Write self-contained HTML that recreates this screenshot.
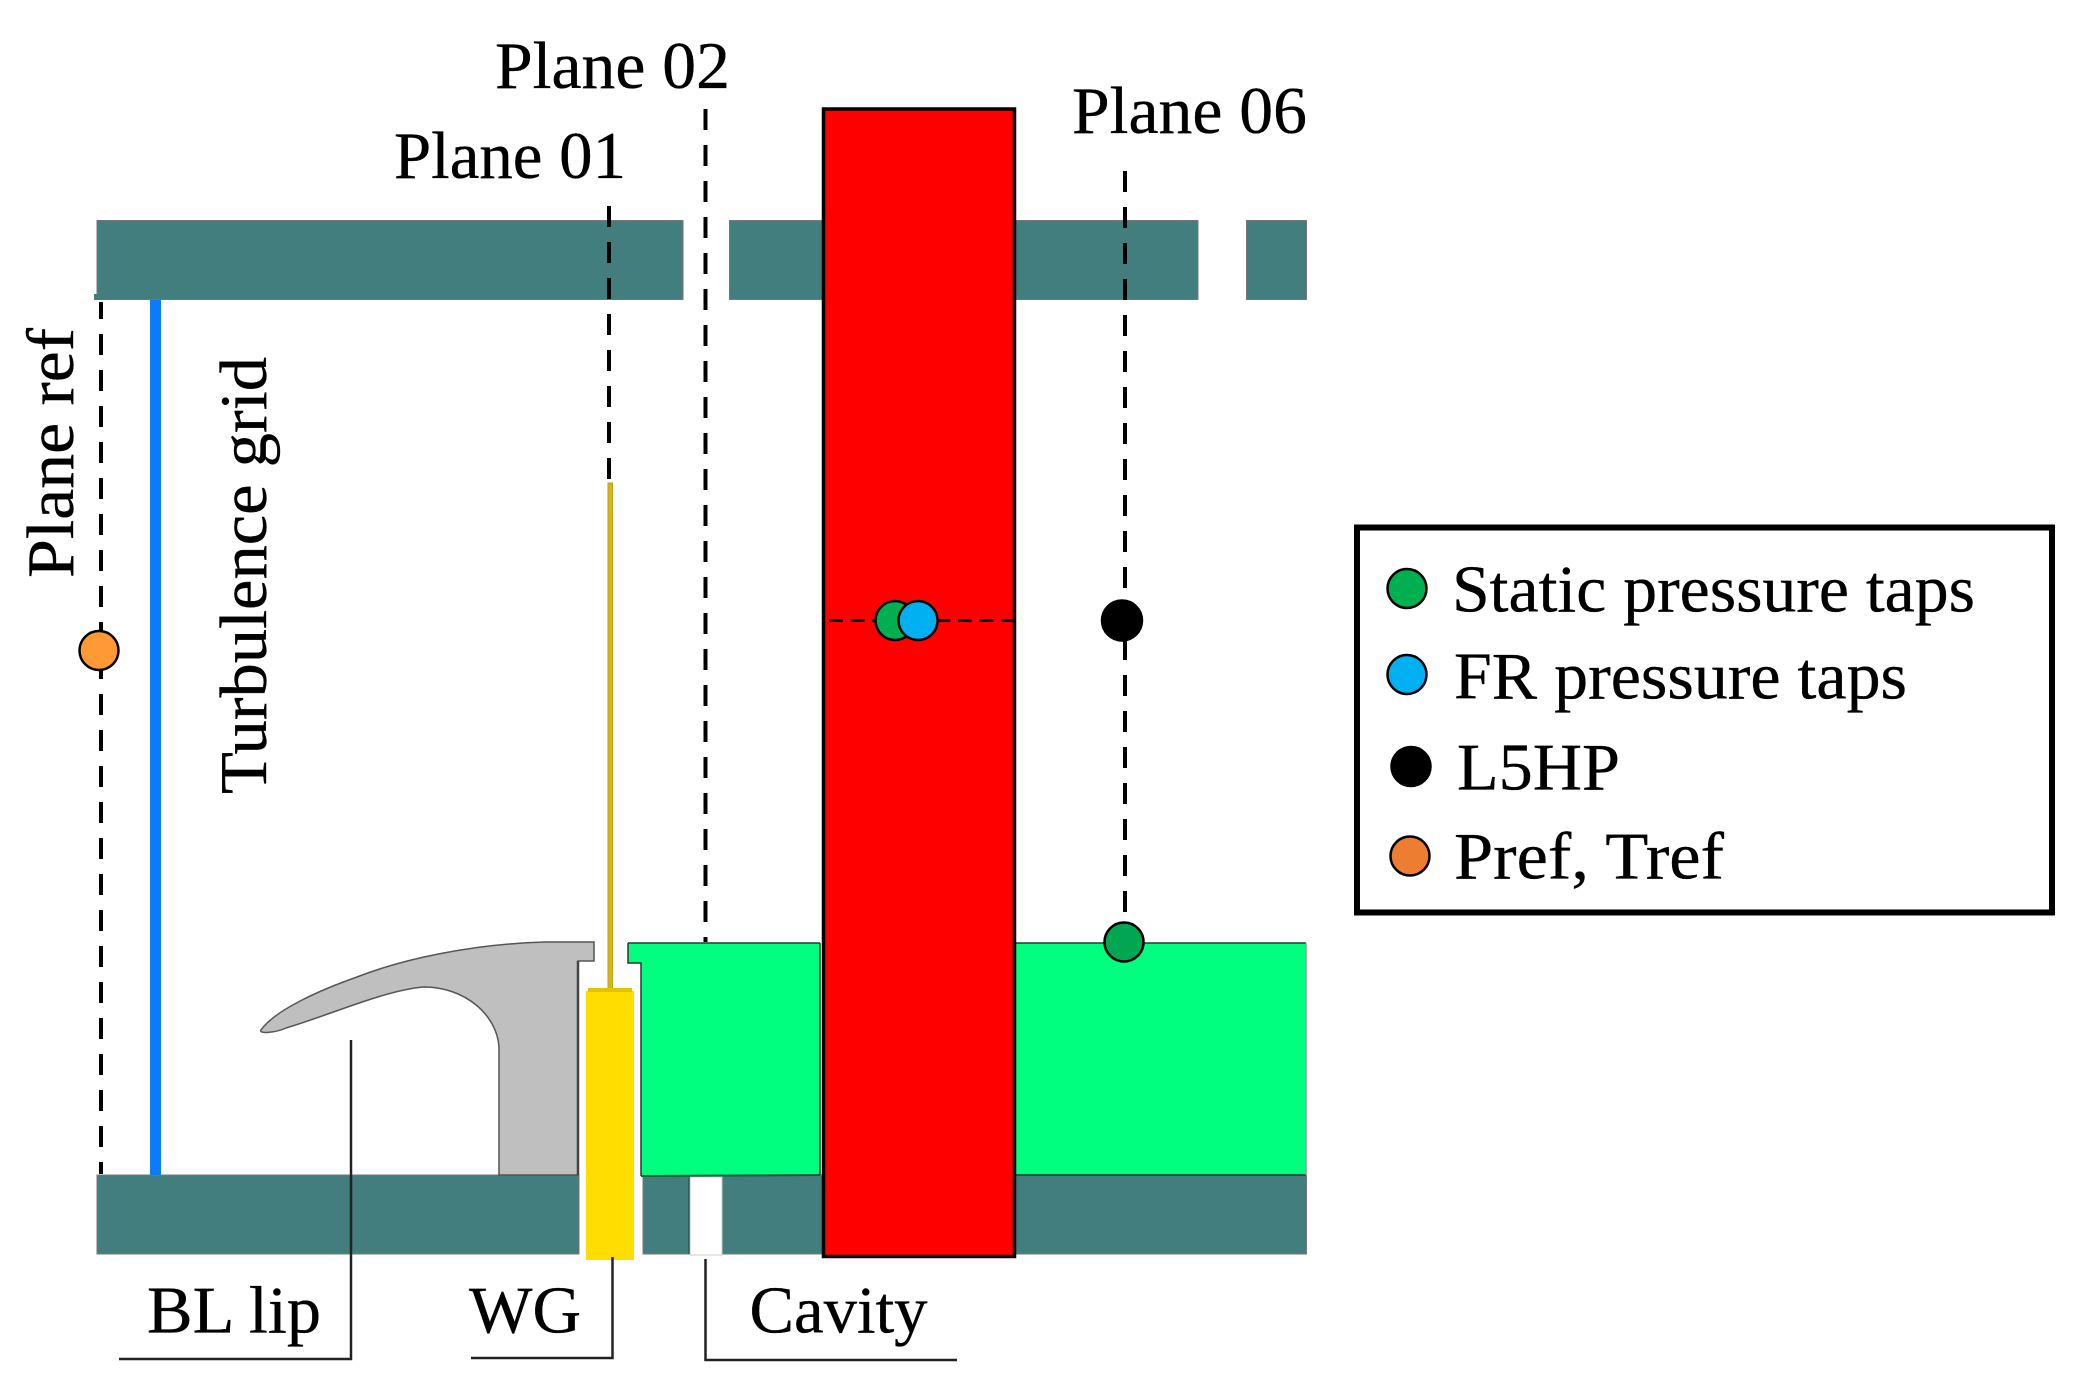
<!DOCTYPE html>
<html><head><meta charset="utf-8"><style>
html,body{margin:0;padding:0;background:#fff}
svg{display:block}
text{font-family:"Liberation Serif","Times New Roman",serif;font-size:67px;fill:#000;stroke:#000;stroke-width:.35}
</style></head><body>
<svg xmlns="http://www.w3.org/2000/svg" width="2084" height="1394" viewBox="0 0 2084 1394">
<rect width="2084" height="1394" fill="#fff"/>
<!-- top wall -->
<g fill="#437E7E" stroke="#777" stroke-width="1">
<rect x="97" y="220.5" width="586" height="79"/>
<rect x="729.5" y="220.5" width="468.5" height="79"/>
<rect x="1246.5" y="220.5" width="60" height="79"/>
<!-- bottom wall -->
<rect x="97" y="1175" width="482" height="79"/>
<rect x="643" y="1175" width="663.5" height="79"/>
</g>
<rect x="690" y="1177" width="32" height="78" fill="#fff" stroke="#ccc" stroke-width="1"/>
<line x1="689" y1="1176" x2="689" y2="1254" stroke="#2a5c5c" stroke-width="1.5"/>
<!-- turbulence grid -->
<rect x="150" y="300" width="11" height="875" fill="#0A7CF8"/>
<!-- BL lip -->
<path d="M261 1030 C275 1010 320 990 357 977 C400 960 470 944 545 942 L594 942 L594 961 L578 961 L578 1175 L499 1175 L499 1047 C497 1015 465 987 424 987 C385 990 330 1015 286 1028 C275 1033 258 1034 261 1030 Z" fill="#BFBFBF" stroke="#555" stroke-width="1.5"/>
<line x1="578" y1="961" x2="578" y2="1175" stroke="#444" stroke-width="2.5"/>
<!-- green blocks -->
<path d="M628 943 L820 943 L820 1175 L641 1176 L641 963 L628 963 Z" fill="#00FF7F"/>
<path d="M628 943 H820 M628 943 V963 H641 V1176" fill="none" stroke="#333" stroke-width="1.5"/>
<line x1="641" y1="1176" x2="820" y2="1175" stroke="#1c5a3c" stroke-width="2"/>
<line x1="820" y1="943" x2="820" y2="1175" stroke="#333" stroke-width="1.5"/>
<rect x="1013" y="943" width="293.5" height="232" fill="#00FF7F"/>
<path d="M1013 943 H1306" stroke="#333" stroke-width="1.5" fill="none"/>
<line x1="1013" y1="1175" x2="1306" y2="1175" stroke="#1c5a3c" stroke-width="2"/>
<line x1="1306" y1="943" x2="1306" y2="1175" stroke="#999" stroke-width="1.5"/>
<!-- wedge -->
<rect x="608" y="483" width="4.5" height="506" fill="#DDB700" stroke="#B89E30" stroke-width="1"/>
<rect x="586" y="991" width="48" height="269" fill="#FFDD00"/>
<rect x="588" y="988" width="44" height="4" fill="#E6C300"/>
<!-- red -->
<rect x="823.5" y="109" width="191" height="1147.5" fill="#FF0000" stroke="#000" stroke-width="3.5"/>
<!-- dashed planes -->
<g fill="none" stroke="#000" stroke-width="4" stroke-dasharray="21 15">
<line x1="101" y1="298" x2="101" y2="1174" stroke-dashoffset="0"/>
<line x1="609" y1="206" x2="609" y2="482" />
<line x1="705.5" y1="109" x2="705.5" y2="942"/>
<line x1="1125" y1="171" x2="1125" y2="930"/>
</g>
<rect x="94" y="294" width="14" height="8" fill="#fff"/>
<rect x="94" y="294" width="14" height="6" fill="#437E7E"/>
<line x1="1015" y1="620.5" x2="829" y2="620.5" stroke="#000" stroke-width="3" stroke-dasharray="14 7.5"/>
<!-- points -->
<g stroke="#000" stroke-width="2.5">
<circle cx="99" cy="650.5" r="19.5" fill="#FF9933"/>
<circle cx="895" cy="620.5" r="19.5" fill="#00B050"/>
<circle cx="918" cy="620.5" r="19.5" fill="#00B0F0"/>
<circle cx="1122" cy="620.5" r="20" fill="#000"/>
<circle cx="1124" cy="942" r="19.5" fill="#00A651"/>
</g>
<!-- leader lines -->
<g fill="none" stroke="#222" stroke-width="2.5">
<path d="M351 1040 V1359 H119"/>
<path d="M612.5 1257 V1358 H471"/>
<path d="M705.5 1259 V1360 H957"/>
</g>
<!-- labels -->
<text x="495" y="88" textLength="235" lengthAdjust="spacingAndGlyphs">Plane 02</text>
<text x="394" y="178" textLength="232" lengthAdjust="spacingAndGlyphs">Plane 01</text>
<text x="1072" y="133" textLength="235" lengthAdjust="spacingAndGlyphs">Plane 06</text>
<text transform="translate(73 578) rotate(-90)" textLength="250" lengthAdjust="spacingAndGlyphs">Plane ref</text>
<text transform="translate(266 794) rotate(-90)" textLength="437" lengthAdjust="spacingAndGlyphs">Turbulence grid</text>
<text x="147" y="1332.5" textLength="174" lengthAdjust="spacingAndGlyphs">BL lip</text>
<text x="469" y="1332.5" textLength="112" lengthAdjust="spacingAndGlyphs">WG</text>
<text x="749.5" y="1332.5" textLength="178" lengthAdjust="spacingAndGlyphs">Cavity</text>
<!-- legend -->
<rect x="1357" y="527.5" width="695" height="385" fill="#fff" stroke="#000" stroke-width="6"/>
<g stroke="#000" stroke-width="2.5">
<circle cx="1407" cy="588.5" r="19.5" fill="#00B050"/>
<circle cx="1407" cy="674.5" r="19.5" fill="#00B0F0"/>
<circle cx="1411" cy="766.5" r="19.5" fill="#000"/>
<circle cx="1410" cy="856" r="19.5" fill="#ED7D31"/>
</g>
<text x="1452" y="611.5" textLength="523" lengthAdjust="spacingAndGlyphs">Static pressure taps</text>
<text x="1454" y="698.5" textLength="453" lengthAdjust="spacingAndGlyphs">FR pressure taps</text>
<text x="1457" y="789.5" textLength="163" lengthAdjust="spacingAndGlyphs">L5HP</text>
<text x="1454" y="878.5" textLength="270" lengthAdjust="spacingAndGlyphs">Pref, Tref</text>
</svg>
</body></html>
